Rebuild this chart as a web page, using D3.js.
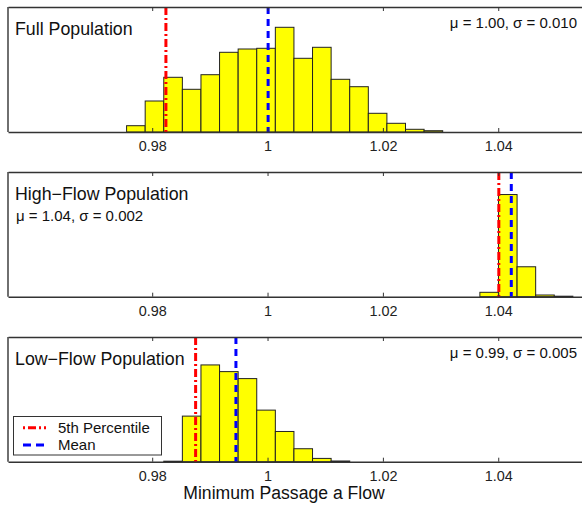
<!DOCTYPE html>
<html>
<head>
<meta charset="utf-8">
<script src="https://cdn.jsdelivr.net/npm/d3@7/dist/d3.min.js"></script>
<style>
  html, body { margin: 0; padding: 0; background: #fff; }
  svg { display: block; font-family: "Liberation Sans", Arial, Helvetica, sans-serif; }
</style>
</head>
<body>
<svg id="chart" width="582" height="506"></svg>
<script>
// Histogram bin grid shared by all three populations
const binStart = 0.97556;
const binWidth = 0.003224;

// Counts per bin; each series starts at the given bin index
const fullStartBin = 0;
const fullCounts = [6.3, 31, 54.7, 42.7, 57.3, 79.7, 83, 83.7, 104.7, 73.7, 84.7, 52.7, 45.3, 18.7, 8.7, 2.7, 1.3];
const highStartBin = 19;
const highCounts = [4.4, 102.4, 30, 1.7, 0.5];
const lowStartBin = 2;
const lowCounts = [0.5, 45.7, 97, 90.3, 83.3, 51.7, 30.3, 13, 3.3, 0.7];

// Summary statistics drawn as reference lines
const panelNames = ["Full Population", "High\u2212Flow Population", "Low\u2212Flow Population"];
const statLabels = ["\u03bc = 1.00, \u03c3 = 0.010", "\u03bc = 1.04, \u03c3 = 0.002", "\u03bc = 0.99, \u03c3 = 0.005"];
const percentile5 = [0.98238, 1.0401, 0.98753];
const means = [1.0001, 1.04226, 0.99452];

const xTicks = [0.98, 1, 1.02, 1.04];
const xDomain = [0.955, 1.06];
const yMax = 125;

const svg = d3.select("#chart");
const x = d3.scaleLinear().domain(xDomain).range([8, 613.6]);

const panels = [
  { top: 7, bottom: 132, start: fullStartBin, counts: fullCounts, statPos: "right" },
  { top: 172, bottom: 296.7, start: highStartBin, counts: highCounts, statPos: "left" },
  { top: 337, bottom: 461.7, start: lowStartBin, counts: lowCounts, statPos: "right" }
];

const axisColor = "#333";

panels.forEach((p, i) => {
  const y = d3.scaleLinear().domain([0, yMax]).range([p.bottom, p.top]);
  const g = svg.append("g");

  const bins = p.counts.map((c, k) => {
    const x0 = binStart + (p.start + k) * binWidth;
    return { x0: x0, x1: x0 + binWidth, count: c };
  });

  // bars
  g.selectAll("rect.bar").data(bins).join("rect")
    .attr("class", "bar")
    .attr("x", d => x(d.x0))
    .attr("width", d => x(d.x1) - x(d.x0))
    .attr("y", d => y(d.count))
    .attr("height", d => y(0) - y(d.count))
    .attr("fill", "#ffff00")
    .attr("stroke", "#222")
    .attr("stroke-width", 1);

  // 5th percentile (dash-dot) and mean (dashed)
  g.append("line")
    .attr("x1", x(percentile5[i])).attr("x2", x(percentile5[i]))
    .attr("y1", p.top).attr("y2", p.bottom)
    .attr("stroke", "#ff0000").attr("stroke-width", 3)
    .attr("stroke-dasharray", "8,3,2,3");
  g.append("line")
    .attr("x1", x(means[i])).attr("x2", x(means[i]))
    .attr("y1", p.top).attr("y2", p.bottom)
    .attr("stroke", "#0000ff").attr("stroke-width", 3)
    .attr("stroke-dasharray", "7,5");

  // frame: bottom axis with inward ticks, top edge, left edge
  const axisBottom = d3.axisBottom(x).tickValues(xTicks)
    .tickFormat(d3.format("~g")).tickSizeInner(-4).tickSizeOuter(0).tickPadding(9);
  const ab = g.append("g").attr("transform", `translate(0,${p.bottom})`).call(axisBottom);
  ab.select(".domain").attr("stroke", axisColor).attr("stroke-width", 1.4);
  ab.selectAll(".tick line").attr("stroke", axisColor).attr("stroke-width", 1);
  ab.selectAll(".tick text").attr("font-size", 14.4).attr("fill", "#222")
    .attr("font-family", "Liberation Sans, Arial, sans-serif");

  const axisTop = d3.axisTop(x).tickValues(xTicks).tickFormat("").tickSizeInner(-4).tickSizeOuter(0);
  const at = g.append("g").attr("transform", `translate(0,${p.top})`).call(axisTop);
  at.select(".domain").attr("stroke", axisColor).attr("stroke-width", 1.4);
  at.selectAll(".tick line").attr("stroke", axisColor).attr("stroke-width", 1);

  g.append("line")
    .attr("x1", x(xDomain[0])).attr("x2", x(xDomain[0]))
    .attr("y1", p.top).attr("y2", p.bottom)
    .attr("stroke", axisColor).attr("stroke-width", 1.4);

  // panel title and stats
  g.append("text")
    .attr("x", 15).attr("y", p.top + 28)
    .attr("font-size", 17.8).attr("fill", "#111")
    .text(panelNames[i]);

  if (p.statPos === "right") {
    g.append("text")
      .attr("x", 577).attr("y", p.top + 21)
      .attr("text-anchor", "end")
      .attr("font-size", 15).attr("fill", "#111")
      .text(statLabels[i]);
  } else {
    g.append("text")
      .attr("x", 16).attr("y", p.top + 49)
      .attr("font-size", 15).attr("fill", "#111")
      .text(statLabels[i]);
  }
});

// legend in the lower panel
const leg = svg.append("g");
leg.append("rect")
  .attr("x", 13.5).attr("y", 416.5).attr("width", 148).attr("height", 38.5)
  .attr("fill", "#fff").attr("stroke", "#333").attr("stroke-width", 1);
const legendItems = [
  { label: "5th Percentile", color: "#ff0000", dash: "2,3,8,3,2,3", y: 427.7 },
  { label: "Mean", color: "#0000ff", dash: "8,5", y: 445 }
];
legendItems.forEach(it => {
  leg.append("line")
    .attr("x1", 23).attr("x2", 49).attr("y1", it.y).attr("y2", it.y)
    .attr("stroke", it.color).attr("stroke-width", 3)
    .attr("stroke-dasharray", it.dash);
  leg.append("text")
    .attr("x", 58).attr("y", it.y + 5.2)
    .attr("font-size", 15).attr("fill", "#111")
    .text(it.label);
});

// x axis title
svg.append("text")
  .attr("x", 284).attr("y", 499)
  .attr("text-anchor", "middle")
  .attr("font-size", 17.6).attr("fill", "#111")
  .text("Minimum Passage a Flow");
</script>
</body>
</html>
